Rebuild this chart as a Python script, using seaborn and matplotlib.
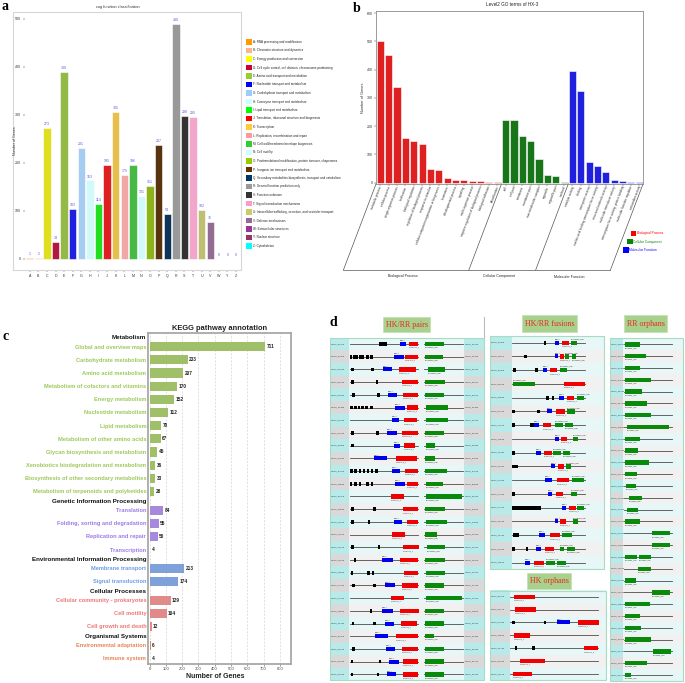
import matplotlib
matplotlib.use("Agg")
import matplotlib.pyplot as plt
import pandas as pd
import seaborn as sns
from matplotlib.patches import Rectangle

W, H = 685, 683
DPI = 100
SANS = ["Liberation Sans", "DejaVu Sans"]
SERIF = ["Liberation Serif", "DejaVu Serif"]

# ---------------- panel a: COG classes ----------------
COG_CODES = list("ABCDEFGHIJKLMNOPQRSTUVWYZ")
COG_COUNTS = [1, 2, 273, 34, 389, 103, 231, 163, 114, 195, 305, 175, 196,
              131, 151, 237, 94, 490, 298, 295, 102, 76, 0, 0, 0]
COG_NAMES = [
    "RNA processing and modification",
    "Chromatin structure and dynamics",
    "Energy production and conversion",
    "Cell cycle control, cell division, chromosome partitioning",
    "Amino acid transport and metabolism",
    "Nucleotide transport and metabolism",
    "Carbohydrate transport and metabolism",
    "Coenzyme transport and metabolism",
    "Lipid transport and metabolism",
    "Translation, ribosomal structure and biogenesis",
    "Transcription",
    "Replication, recombination and repair",
    "Cell wall/membrane/envelope biogenesis",
    "Cell motility",
    "Posttranslational modification, protein turnover, chaperones",
    "Inorganic ion transport and metabolism",
    "Secondary metabolites biosynthesis, transport and catabolism",
    "General function prediction only",
    "Function unknown",
    "Signal transduction mechanisms",
    "Intracellular trafficking, secretion, and vesicular transport",
    "Defense mechanisms",
    "Extracellular structures",
    "Nuclear structure",
    "Cytoskeleton",
]
COG_COLORS = ["#FF9900", "#FFB38A", "#FFFF00", "#CC0033", "#99CC33", "#0000FF",
              "#99CCFF", "#CCFFFF", "#00FF00", "#FF0000", "#FFCC33", "#FF9999",
              "#33CC33", "#CCFFFF", "#99CC00", "#663300", "#003366", "#999999",
              "#333333", "#FF99CC", "#CCCC66", "#996699", "#993399", "#993366",
              "#00FFFF"]

# ---------------- panel b: GO level 2 ----------------
GO_BP_TERMS = ["metabolic process", "cellular process", "single-organism process",
               "localization", "biological regulation",
               "regulation of biological process", "response to stimulus",
               "cellular component organization or biogenesis", "locomotion",
               "developmental process", "signaling", "multi-organism process",
               "negative regulation of biological process", "biological adhesion",
               "detoxification"]
GO_BP_COUNTS = [502, 452, 338, 157, 148, 137, 48, 44, 16, 10, 10, 5, 5, 2, 2]
GO_CC_TERMS = ["cell", "cell part", "membrane", "membrane part",
               "macromolecular complex", "organelle", "organelle part", "nucleoid"]
GO_CC_COUNTS = [222, 222, 165, 148, 83, 27, 24, 2]
GO_MF_TERMS = ["catalytic activity", "binding", "transporter activity",
               "nucleic acid binding transcription factor activity",
               "structural molecule activity", "molecular transducer activity",
               "transcription factor activity, protein binding",
               "molecular function regulator", "antioxidant activity"]
GO_MF_COUNTS = [397, 326, 72, 59, 37, 11, 7, 4, 3]
GO_GROUPS = ["Biological Process", "Cellular Component", "Molecular Function"]
GO_COLORS = {"Biological Process": "#FF0000", "Cellular Component": "#0A840A",
             "Molecular Function": "#0000FF"}

# ---------------- panel c: KEGG ----------------
KEGG_GROUPS = ["Metabolism", "Genetic Information Processing",
               "Environmental Information Processing", "Cellular Processes",
               "Organismal Systems"]
KEGG_TERMS = [
    ["Global and overview maps", "Carbohydrate metabolism", "Amino acid metabolism",
     "Metabolism of cofactors and vitamins", "Energy metabolism",
     "Nucleotide metabolism", "Lipid metabolism", "Metabolism of other amino acids",
     "Glycan biosynthesis and metabolism", "Xenobiotics biodegradation and metabolism",
     "Biosynthesis of other secondary metabolites",
     "Metabolism of terpenoids and polyketides"],
    ["Translation", "Folding, sorting and degradation", "Replication and repair",
     "Transcription"],
    ["Membrane transport", "Signal transduction"],
    ["Cellular community - prokaryotes", "Cell motility", "Cell growth and death"],
    ["Environmental adaptation", "Immune system"],
]
KEGG_COUNTS = [
    [711, 233, 207, 170, 152, 112, 70, 67, 45, 36, 33, 28],
    [84, 55, 50, 4],
    [213, 174],
    [129, 104, 12],
    [6, 4],
]
KEGG_BAR_COLORS = {"Metabolism": "#A3CD5A", "Genetic Information Processing": "#A27BEA",
                   "Environmental Information Processing": "#6F9EE8",
                   "Cellular Processes": "#F07B7B", "Organismal Systems": "#E8875A"}
KEGG_TEXT_COLORS = {"Metabolism": "#9CC95A", "Genetic Information Processing": "#9E78E8",
                    "Environmental Information Processing": "#6D9CE6",
                    "Cellular Processes": "#F07676", "Organismal Systems": "#E58455"}

# ---------------- panel d: two-component system genes ----------------
# domain positions along each gene track (track units)
PAIR_LEFT_IDS = ["GQRS_00070", "GQRS_00310", "GQRS_00630", "GQRS_01090", "GQRS_01840",
                 "GQRS_03380", "GQRS_03680", "GQRS_04720", "GQRS_05480", "GQRS_07830",
                 "GQRS_07960", "GQRS_08820", "GQRS_09950", "GQRS_09830", "GQRS_14810",
                 "GQRS_13950", "GQRS_15710", "GQRS_16240", "GQRS_16590", "GQRS_17220",
                 "GQRS_17900", "GQRS_18830", "GQRS_21080", "GQRS_21470", "GQRS_21670",
                 "GQRS_22740", "GQRS_22980"]
PAIR_RIGHT_IDS = ["GQRS_00080", "GQRS_00320", "GQRS_00640", "GQRS_01100", "GQRS_01850",
                  "GQRS_03390", "GQRS_03690", "GQRS_04730", "GQRS_05490", "GQRS_07840",
                  "GQRS_07970", "GQRS_08830", "GQRS_09960", "GQRS_09840", "GQRS_14820",
                  "GQRS_13960", "GQRS_15720", "GQRS_16250", "GQRS_16600", "GQRS_17230",
                  "GQRS_17910", "GQRS_18840", "GQRS_21090", "GQRS_21480", "GQRS_21680",
                  "GQRS_22750", "GQRS_22990"]
PAIR_TM = [[92, 100, 108], [3, 13, 20, 30, 37, 52, 65], [7, 67], [8, 81], [10, 86],
           [5, 16, 27, 38, 50, 64], [], [8, 83], [8], [], [5, 16, 30, 42, 54, 66, 79],
           [3, 17, 30, 53, 66], [], [8, 73], [8, 57], [], [8, 87], [15], [6, 55, 69],
           [10, 73], [], [63], [9, 73], [], [10], [6, 90], [6, 84]]
PAIR_HISKA = [(151, 167), (133, 162), (98, 126), None, (115, 140), (136, 165),
              (126, 146), (112, 140), (132, 150), (73, 112), (125, 151), (135, 165),
              None, None, (132, 157), None, None, (97, 128), None, (104, 135), None,
              (95, 128), (104, 133), (76, 115), (107, 136), (117, 147), (112, 139)]
PAIR_HATPASE = [(178, 204), (165, 204), (147, 198), (155, 204), (158, 205), (171, 205),
                (161, 202), (157, 205), (163, 196), (138, 200), (166, 204), (171, 205),
                (122, 162), (160, 205), (170, 204), (126, 166), (160, 206), (150, 204),
                (161, 205), (155, 205), (122, 161), (150, 206), (152, 202), (138, 205),
                (156, 205), (160, 205), (159, 205)]
PAIR_RESPONSE = [(1, 57), (0, 53), (8, 60), (0, 60), (0, 56), (2, 68), (2, 68), (0, 57),
                 (2, 31), (0, 30), (0, 66), (2, 53), (3, 111), (0, 60), (2, 65), (0, 35),
                 (5, 60), (0, 60), (2, 60), (0, 57), (3, 111), (0, 57), (0, 57), (0, 27),
                 (0, 57), (0, 57), (0, 58)]

FUSION_IDS = ["GQRS_00300", "GQRS_01150", "GQRS_04300", "GQRS_06045", "GQRS_06830",
              "GQRS_07175", "GQRS_10070", "GQRS_10810", "GQRS_11040", "GQRS_11385",
              "GQRS_14630", "GQRS_17025", "GQRS_17760", "GQRS_18125", "GQRS_19135",
              "GQRS_19945", "GQRS_20850"]
FUSION_TM = [[98], [40], [6, 73], [], [106, 122], [4, 78], [4, 56, 60], [], [4],
             [2, 6, 10, 14], [], [4], [2, 10, 18, 26, 34, 42, 50, 58, 66, 74, 81], [],
             [6, 15], [4, 44], []]
FUSION_HISKA = [(129, 141), (129, 137), (91, 105), None, (141, 154), (104, 119),
                (65, 80), (129, 139), (72, 85), (117, 129), (97, 118), (107, 119),
                (149, 161), (127, 137), (81, 98), (71, 86), (39, 54)]
FUSION_HATPASE = [(150, 170), (143, 156), (113, 134), (154, 218), (164, 186), (131, 158),
                  (92, 117), (146, 164), (95, 119), (137, 154), (134, 171), (130, 151),
                  (171, 190), (144, 161), (113, 143), (99, 125), (66, 94)]
FUSION_RESPONSE = [[(175, 195)], [(159, 171), (179, 190)], [(143, 163)], [(1, 67)],
                   [(195, 216)], [(164, 189)], [(129, 153), (159, 183)], [(181, 198)],
                   [(122, 145), (152, 174)], [(160, 177)], [(179, 215)], [(176, 195)],
                   [(194, 215)], [(182, 198)], [(150, 180)], [(143, 155), (163, 188)],
                   [(101, 128), (135, 162)]]

HKO_IDS = ["GQRS_02050", "GQRS_05755", "GQRS_07130", "GQRS_09520", "GQRS_09180",
           "GQRS_09695", "GQRS_18050"]
HKO_TM = [[], [], [11, 105], [], [18, 70], [], []]
HKO_HISKA = [None, None, (141, 179), None, None, None, None]
HKO_HATPASE = [(12, 74), (15, 78), (204, 266), (12, 59), (221, 265), (30, 104), (9, 65)]

RRO_IDS = ["GQRS_01165", "GQRS_02090", "GQRS_03465", "GQRS_07585", "GQRS_08285",
           "GQRS_08765", "GQRS_09065", "GQRS_09860", "GQRS_10035", "GQRS_10715",
           "GQRS_10995", "GQRS_11730", "GQRS_12560", "GQRS_13060", "GQRS_13255",
           "GQRS_14050", "GQRS_14625", "GQRS_15865", "GQRS_16385", "GQRS_16910",
           "GQRS_17605", "GQRS_18290", "GQRS_18810", "GQRS_19180", "GQRS_19625",
           "GQRS_20260", "GQRS_20730", "GQRS_21250", "GQRS_22775"]
RRO_RESPONSE = [[(3, 47)], [(3, 66)], [(3, 47)], [(3, 81)], [(3, 53)], [(3, 69)],
                [(3, 80)], [(8, 134)], [(3, 47)], [(3, 42)], [(3, 73)], [(3, 39)],
                [(6, 36)], [(13, 52)], [(9, 41)], [(3, 46)], [(84, 136)], [(82, 136)],
                [(3, 38), (43, 81)], [(41, 81)], [(3, 36)], [(84, 136)], [(3, 77)],
                [(3, 47)], [(3, 51)], [(3, 79)], [(85, 141)], [(3, 69)], [(3, 21)]]

HK_BLUE, HATPASE_RED, RR_GREEN = "#0000F0", "#F00000", "#0A8A0A"


def fig_axes(fig, x0, y0, x1, y1, **kw):
    """Axes placed by pixel box (top-left origin)."""
    return fig.add_axes([x0 / W, 1 - y1 / H, (x1 - x0) / W, (y1 - y0) / H], **kw)


def plot_cog(fig, ov):
    ax = fig_axes(fig, 25, 12, 241, 270)
    df = pd.DataFrame({"code": COG_CODES, "count": COG_COUNTS})
    sns.barplot(data=df, x="code", y="count", hue="code", palette=COG_COLORS,
                width=0.85, edgecolor="white", linewidth=0.4, legend=False, ax=ax)
    for i, v in enumerate(COG_COUNTS):
        ax.text(i, v + 4, str(v), ha="center", va="bottom", fontsize=2.6,
                color="#5A5AF0")
    ax.set_xlim(-0.55, 24.58)
    ax.set_ylim(-23.6, 514)
    ax.set_yticks(range(0, 501, 100))
    ax.tick_params(labelsize=2.6, length=1.2, width=0.3, pad=1.5, colors="#333333")
    for s in ax.spines.values():
        s.set_visible(False)
    ax.set_xlabel("")
    ax.set_ylabel("")
    ov.add_patch(Rectangle((13, 12), 228, 258, fill=False, ec="#D6D6D6", lw=0.8))
    ov.text(118, 7, "cog function classification", fontsize=2.8, ha="center",
            va="center", color="#333333")
    ov.text(15.5, 141, "Number of Genes", fontsize=2.6, rotation=90, ha="center",
            va="center", color="#333333")
    # legend
    for i, (code, name, color) in enumerate(zip(COG_CODES, COG_NAMES, COG_COLORS)):
        y = 42 + 8.5 * i
        ov.add_patch(Rectangle((246.3, y - 2.9), 5.8, 5.8, fc=color, ec="none"))
        ov.text(253.3, y, f"{code}: {name}", fontsize=2.2, va="center",
                color="#222222")


def plot_go(fig, ov):
    ax = fig_axes(fig, 376, 11, 643, 184)
    terms = GO_BP_TERMS + GO_CC_TERMS + GO_MF_TERMS
    counts = GO_BP_COUNTS + GO_CC_COUNTS + GO_MF_COUNTS
    groups = ([GO_GROUPS[0]] * len(GO_BP_TERMS) + [GO_GROUPS[1]] * len(GO_CC_TERMS)
              + [GO_GROUPS[2]] * len(GO_MF_TERMS))
    df = pd.DataFrame({"term": terms, "count": counts, "group": groups})
    sns.barplot(data=df, x="term", y="count", hue="group", palette=GO_COLORS,
                dodge=False, width=0.85, edgecolor="white", linewidth=0.4,
                legend=False, ax=ax)
    x0, x1, y0, y1 = -0.52, 31.45, -4.6, 608
    ax.set_xlim(x0, x1)
    ax.set_ylim(y0, y1)
    ax.set_yticks(range(0, 601, 100))
    ax.set_xticks(range(len(terms)))
    ax.set_xticklabels([])
    ax.tick_params(labelsize=2.6, length=1.2, width=0.3, pad=1.2, colors="#333333")
    for s in ax.spines.values():
        s.set_color("#8C8C8C")
        s.set_linewidth(0.6)
    ax.set_xlabel("")
    ax.set_ylabel("")

    # slanted category labels and group frame below the axis
    px_x = 267 / (x1 - x0)
    px_y = 173 / (y1 - y0)
    dx = -32.6 / px_x
    dy = -86 / px_y
    for i, t in enumerate(terms):
        ax.text(i + 0.1, y0 - 8, t, rotation=69, rotation_mode="anchor", ha="right",
                va="center", fontsize=2.2, color="#333333", clip_on=False)
    n_bp, n_cc = len(GO_BP_TERMS), len(GO_CC_TERMS)
    bounds = [x0, n_bp - 0.5, n_bp + n_cc - 0.5, x1]
    for b in bounds:
        ax.plot([b, b + dx], [y0, y0 + dy], color="#555555", lw=0.5, clip_on=False)
    ax.plot([x0 + dx, x1 + dx], [y0 + dy, y0 + dy], color="#555555", lw=0.5,
            clip_on=False)
    for g, (a, b) in enumerate(zip(bounds[:-1], bounds[1:])):
        ax.text((a + b) / 2 + dx - 0.4, y0 + dy - 6.5 / px_y, GO_GROUPS[g],
                ha="center", va="center", fontsize=2.6, color="#222222",
                clip_on=False)

    ov.text(512, 5, "Level2 GO terms of HX-3", fontsize=3.3, ha="center",
            va="center", color="#222222")
    ov.text(363, 98, "Number of Genes", fontsize=2.8, rotation=90, ha="center",
            va="center", color="#333333")
    for g, (lx, ly) in enumerate([(630.7, 233.3), (627.3, 241.7), (623.3, 250)]):
        name = GO_GROUPS[g]
        ov.add_patch(Rectangle((lx, ly - 2.7), 5.4, 5.4, fc=GO_COLORS[name], ec="none"))
        ov.text(lx + 6.2, ly, name, fontsize=2.3, va="center", color=GO_COLORS[name])


def plot_kegg(fig, ov):
    ax = fig_axes(fig, 148, 333, 291, 664)
    rows, header_pos, bar_pos = [], [], []
    p = 0.0
    for g, group in enumerate(KEGG_GROUPS):
        header_pos.append(p)
        p += 0.71
        for term, count in zip(KEGG_TERMS[g], KEGG_COUNTS[g]):
            rows.append({"term": term, "count": count, "group": group, "pos": p})
            bar_pos.append(p)
            p += 1
        p += -1 + 0.71
    df = pd.DataFrame(rows)
    sns.barplot(data=df, x="count", y="pos", hue="group", palette=KEGG_BAR_COLORS,
                orient="h", native_scale=True, dodge=False, width=0.69,
                legend=False, ax=ax)
    for _, r in df.iterrows():
        ax.text(r["count"] + 9, r["pos"], str(r["count"]), va="center",
                fontsize=3.4, fontweight="bold", color="#222222")
    ax.set_xlim(-10, 868)
    ax.set_ylim(bar_pos[-1] + 0.43, -0.33)
    ax.set_xticks(range(0, 801, 100))
    ax.xaxis.grid(True, ls=(0, (3, 2)), color="#D5D5D5", lw=0.5)
    ax.set_axisbelow(True)

    ticks = header_pos + bar_pos
    labels = KEGG_GROUPS + list(df["term"])
    colors = ["#111111"] * len(KEGG_GROUPS) + [KEGG_TEXT_COLORS[g] for g in df["group"]]
    sizes = [4.5] * len(KEGG_GROUPS) + [4.1] * len(df)
    ax.set_yticks(ticks)
    ax.set_yticklabels(labels)
    for lab, c, s in zip(ax.get_yticklabels(), colors, sizes):
        lab.set_color(c)
        lab.set_fontsize(s)
        lab.set_fontweight("bold")
    ax.tick_params(axis="y", length=0, pad=1.3)
    ax.tick_params(axis="x", labelsize=3, length=1.5, width=0.4, pad=1,
                   colors="#444444")
    for s in ax.spines.values():
        s.set_color("#A8A8A8")
        s.set_linewidth(1.3)
    ax.set_xlabel("")
    ax.set_ylabel("")
    ov.text(220, 329, "KEGG pathway annotation", fontsize=5.4, fontweight="bold",
            ha="center", va="center", color="#222222")
    ov.text(215, 677, "Number of Genes", fontsize=5, fontweight="bold",
            ha="center", va="center", color="#222222")


def draw_band(ax, i, y, h, x0, x1, lab_x1, label):
    band = "#E7F7F7" if i % 2 == 0 else "#F1F1F1"
    cell = "#B8EAEA" if i % 2 == 0 else "#D9D9D9"
    ax.add_patch(Rectangle((x0, y - h / 2), x1 - x0, h, fc=band, ec="none", zorder=0))
    ax.add_patch(Rectangle((x0, y - h / 2), lab_x1 - x0, h, fc=cell, ec="none",
                           zorder=1))
    ax.text(x0 + 3, y, label, fontsize=1.6, va="center", color="#333333", zorder=4)


def draw_domain(ax, y, origin, span, color, height, label, above=False):
    s, e = span
    ax.barh(y, e - s, left=origin + s, height=height, color=color, zorder=3)
    ty = y - height / 2 - 4 if above else y + height / 2 + 4
    ax.text(origin + s, ty, label, fontsize=1.5, va="center", color="#333333",
            zorder=4)


def draw_hk(ax, y, origin, tm, hisaka, hatpase):
    for t in tm:
        ax.add_patch(Rectangle((origin + t - 4, y - 5.5), 8, 11, fc="black",
                               ec="none", zorder=3))
    if hisaka is not None:
        draw_domain(ax, y, origin, hisaka, HK_BLUE, 12, "HisKA", above=True)
    if hatpase is not None:
        draw_domain(ax, y, origin, hatpase, HATPASE_RED, 13, "HATPase_c")


def header(ax, x0, y0, x1, y1, text):
    ax.add_patch(Rectangle((x0, y0), x1 - x0, y1 - y0, fc="#A9D18E", ec="#C6E0B4",
                           lw=0.6, zorder=2))
    ax.text((x0 + x1) / 2, (y0 + y1) / 2 + 1, text, ha="center", va="center",
            fontsize=5.8, color="#E8291C", family=SERIF, zorder=3)


def plot_tcs(fig, ov):
    ax = fig_axes(fig, 330, 300, 685, 683)
    ax.set_xlim(0, 1065)
    ax.set_ylim(1149, 0)
    ax.axis("off")
    line_kw = dict(color="#4D4D4D", lw=0.6, zorder=2)

    # HK/RR pairs
    step = (1123 - 132) / (len(PAIR_LEFT_IDS) - 1)
    for i in range(len(PAIR_LEFT_IDS)):
        y = 132 + step * i
        draw_band(ax, i, y, step, 0, 462, 57, PAIR_LEFT_IDS[i])
        cell = "#B8EAEA" if i % 2 == 0 else "#D9D9D9"
        ax.add_patch(Rectangle((403, y - step / 2), 59, step, fc=cell, ec="none",
                               zorder=1))
        ax.text(406, y, PAIR_RIGHT_IDS[i], fontsize=1.6, va="center", color="#333333",
                zorder=4)
        ax.plot([60, 265], [y, y], **line_kw)
        ax.plot([283, 398], [y, y], **line_kw)
        draw_hk(ax, y, 60, PAIR_TM[i], PAIR_HISKA[i], PAIR_HATPASE[i])
        draw_domain(ax, y, 285, PAIR_RESPONSE[i], RR_GREEN, 13, "Response_reg")
    ax.add_patch(Rectangle((0, 113), 462, 1027, fill=False, ec="#A6DDC0", lw=0.8,
                           zorder=5))

    # HK/RR fusions
    step = (788 - 128) / (len(FUSION_IDS) - 1)
    for i in range(len(FUSION_IDS)):
        y = 128 + step * i
        draw_band(ax, i, y, step, 481, 822, 545, FUSION_IDS[i])
        ax.plot([547, 765], [y, y], **line_kw)
        draw_hk(ax, y, 547, FUSION_TM[i], FUSION_HISKA[i], FUSION_HATPASE[i])
        for k, span in enumerate(FUSION_RESPONSE[i]):
            draw_domain(ax, y, 547, span, RR_GREEN, 13, "Response_reg",
                        above=(k == 0))
    ax.add_patch(Rectangle((481, 108), 341, 700, fill=False, ec="#A6DDC0", lw=0.8,
                           zorder=5))

    # HK orphans
    step = (1122 - 890) / (len(HKO_IDS) - 1)
    for i in range(len(HKO_IDS)):
        y = 890 + step * i
        draw_band(ax, i, y, step, 481, 828, 540, HKO_IDS[i])
        ax.plot([540, 805], [y, y], **line_kw)
        draw_hk(ax, y, 540, HKO_TM[i], HKO_HISKA[i], HKO_HATPASE[i])
    ax.add_patch(Rectangle((481, 872), 347, 268, fill=False, ec="#A6DDC0", lw=0.8,
                           zorder=5))

    # RR orphans
    step = (1125 - 133) / (len(RRO_IDS) - 1)
    for i in range(len(RRO_IDS)):
        y = 133 + step * i
        draw_band(ax, i, y, step, 840, 1058, 880, RRO_IDS[i])
        ax.plot([883, 1025], [y, y], **line_kw)
        for span in RRO_RESPONSE[i]:
            draw_domain(ax, y, 883, span, RR_GREEN, 13, "Respons_reg")
    ax.add_patch(Rectangle((840, 113), 218, 1029, fill=False, ec="#A6DDC0", lw=0.8,
                           zorder=5))

    ax.plot([463, 463], [50, 112], color="#BBBBBB", lw=0.8)
    header(ax, 160, 50, 300, 97, "HK/RR pairs")
    header(ax, 577, 46, 740, 95, "HK/RR fusions")
    header(ax, 882, 46, 1012, 95, "RR orphans")
    header(ax, 592, 820, 723, 866, "HK orphans")


def main():
    plt.rcParams["font.family"] = SANS
    fig = plt.figure(figsize=(W / DPI, H / DPI), dpi=DPI)
    ov_holder = []

    # overlay axes in pixel coordinates for frames, titles and panel letters
    ov = fig.add_axes([0, 0, 1, 1], zorder=10)
    ov.set_xlim(0, W)
    ov.set_ylim(H, 0)
    ov.axis("off")
    ov_holder.append(ov)

    plot_cog(fig, ov)
    plot_go(fig, ov)
    plot_kegg(fig, ov)
    plot_tcs(fig, ov)

    for letter, x, y in [("a", 2, 7), ("b", 353, 8), ("c", 3, 336), ("d", 330, 323)]:
        ov.text(x, y, letter, fontsize=10, fontweight="bold", family=SERIF,
                va="center", ha="left", color="black")

    fig.savefig("out.png", dpi=DPI, facecolor="white")
    plt.close(fig)


if __name__ == "__main__":
    main()
